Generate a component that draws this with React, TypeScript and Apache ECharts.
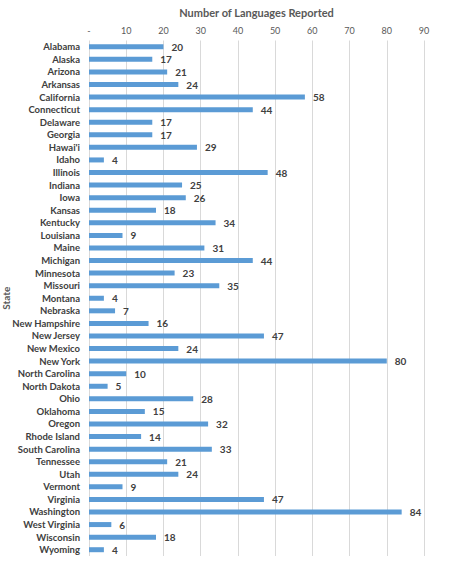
import React, { useEffect, useRef } from "react";
import * as echarts from "echarts";

const states = [
  "Alabama", "Alaska", "Arizona", "Arkansas", "California", "Connecticut", "Delaware", "Georgia",
  "Hawai'i", "Idaho", "Illinois", "Indiana", "Iowa", "Kansas", "Kentucky", "Louisiana", "Maine",
  "Michigan", "Minnesota", "Missouri", "Montana", "Nebraska", "New Hampshire", "New Jersey",
  "New Mexico", "New York", "North Carolina", "North Dakota", "Ohio", "Oklahoma", "Oregon",
  "Rhode Island", "South Carolina", "Tennessee", "Utah", "Vermont", "Virginia", "Washington",
  "West Virginia", "Wisconsin", "Wyoming",
];
const languages = [
  20, 17, 21, 24, 58, 44, 17, 17,
  29, 4, 48, 25, 26, 18, 34, 9, 31,
  44, 23, 35, 4, 7, 16, 47,
  24, 80, 10, 5, 28, 15, 32,
  14, 33, 21, 24, 9, 47, 84,
  6, 18, 4,
];
const xTicks = [0, 10, 20, 30, 40, 50, 60, 70, 80, 90];

const FONT = "Lato, 'Open Sans', sans-serif";

export default function App() {
  const ref = useRef<HTMLDivElement>(null);
  useEffect(() => {
    if (!ref.current) return;
    const chart = echarts.init(ref.current, undefined, { renderer: "svg" });
    chart.setOption({
      animation: false,
      backgroundColor: "#ffffff",
      textStyle: { fontFamily: FONT },
      grid: {
        left: 89,
        right: 48,
        top: 40.5,
        bottom: 14,
        containLabel: false,
        outerBoundsMode: "none",
      },
      xAxis: {
        type: "value",
        position: "top",
        min: xTicks[0],
        max: xTicks[xTicks.length - 1],
        interval: 10,
        name: "Number of Languages Reported",
        nameLocation: "middle",
        nameGap: 23,
        nameMoveOverlap: false,
        nameTextStyle: { fontSize: 11, fontWeight: "bold", color: "#595959", fontFamily: FONT },
        axisLine: { show: false },
        axisTick: { show: false },
        axisLabel: {
          fontSize: 9,
          color: "#595959",
          margin: 6,
          fontFamily: FONT,
          formatter: (v: number) => (v === 0 ? "-" : String(v)),
        },
        splitLine: { show: true, lineStyle: { color: "#d9d9d9", width: 1 } },
      },
      yAxis: {
        type: "category",
        data: states,
        inverse: true,
        name: "State",
        nameLocation: "middle",
        nameRotate: 90,
        nameGap: 78,
        nameMoveOverlap: false,
        nameTextStyle: { fontSize: 10, fontWeight: "bold", color: "#595959", fontFamily: FONT },
        axisLine: { show: false },
        axisTick: { show: false },
        axisLabel: {
          interval: 0,
          fontSize: 9.5,
          fontWeight: "bold",
          color: "#404040",
          margin: 9,
          fontFamily: FONT,
        },
        splitLine: { show: false },
      },
      series: [
        {
          type: "bar",
          data: languages,
          barWidth: 5,
          itemStyle: { color: "#5b9bd5" },
          label: {
            show: true,
            position: "right",
            distance: 8,
            fontSize: 10,
            fontWeight: "bold",
            color: "#404040",
            fontFamily: FONT,
          },
        },
      ],
    });
    return () => chart.dispose();
  }, []);
  return (
    <div
      ref={ref}
      style={{ position: "fixed", left: 0, top: 0, width: 472, height: 570, background: "#fff" }}
    />
  );
}
